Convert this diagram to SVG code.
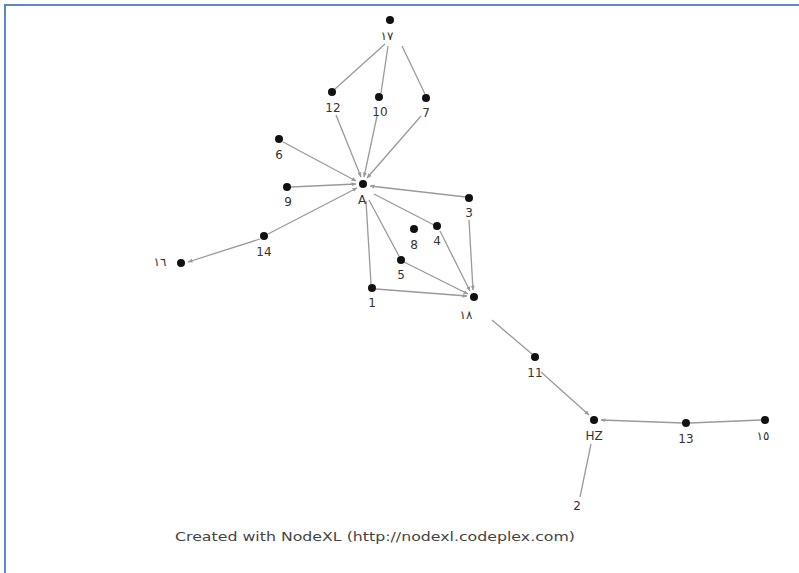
<svg xmlns="http://www.w3.org/2000/svg" width="799" height="573" viewBox="0 0 799 573">
<style>
.edge{stroke:#9a9a9a;stroke-width:1.3;fill:none}
.dot{fill:#111}
.lbl{font-family:"DejaVu Sans","Liberation Sans",sans-serif;font-size:12px;fill:#333;text-anchor:middle}
.credit{font-family:"DejaVu Sans","Liberation Sans",sans-serif;font-size:12.5px;fill:#444}
.frame{stroke:#5a88c8;stroke-width:2;fill:none}
</style>
<defs>
<marker id="arr" viewBox="0 0 10 10" refX="9" refY="5" markerWidth="5" markerHeight="5" orient="auto" markerUnits="userSpaceOnUse">
<path d="M0,1 L10,5 L0,9 z" fill="#9a9a9a"/>
</marker>
</defs>
<rect width="799" height="573" fill="#fff"/>
<path class="frame" d="M5,573 V5 H799"/>
<g id="connectors">
<line class="edge" x1="385" y1="44" x2="335" y2="89"/>
<line class="edge" x1="388" y1="46" x2="381" y2="93"/>
<line class="edge" x1="402" y1="46" x2="425" y2="94"/>
<line class="edge" x1="336" y1="115" x2="361" y2="177" marker-end="url(#arr)"/>
<line class="edge" x1="377" y1="116" x2="364" y2="177" marker-end="url(#arr)"/>
<line class="edge" x1="421" y1="116" x2="367" y2="178" marker-end="url(#arr)"/>
<line class="edge" x1="283" y1="142" x2="356" y2="181" marker-end="url(#arr)"/>
<line class="edge" x1="291" y1="187" x2="356" y2="184" marker-end="url(#arr)"/>
<line class="edge" x1="466" y1="197" x2="370" y2="186" marker-end="url(#arr)"/>
<line class="edge" x1="268" y1="234" x2="357" y2="188" marker-end="url(#arr)"/>
<line class="edge" x1="260" y1="239" x2="188" y2="262" marker-end="url(#arr)"/>
<line class="edge" x1="366" y1="201" x2="371" y2="284"/>
<line class="edge" x1="369" y1="200" x2="399" y2="256"/>
<line class="edge" x1="374" y1="194" x2="434" y2="225"/>
<line class="edge" x1="404" y1="262" x2="468" y2="294" marker-end="url(#arr)"/>
<line class="edge" x1="376" y1="289" x2="467" y2="296" marker-end="url(#arr)"/>
<line class="edge" x1="440" y1="231" x2="470" y2="291" marker-end="url(#arr)"/>
<line class="edge" x1="469" y1="220" x2="473" y2="290" marker-end="url(#arr)"/>
<line class="edge" x1="492" y1="320" x2="532" y2="354"/>
<line class="edge" x1="541" y1="372" x2="589" y2="415" marker-end="url(#arr)"/>
<line class="edge" x1="683" y1="423" x2="601" y2="420" marker-end="url(#arr)"/>
<line class="edge" x1="761" y1="420" x2="690" y2="423"/>
<line class="edge" x1="591" y1="444" x2="580" y2="497"/>
</g>
<g id="n17"><circle class="dot" cx="390" cy="20" r="4"/><text class="lbl" x="387" y="40">١٧</text></g>
<g id="n12"><circle class="dot" cx="332" cy="92" r="4"/><text class="lbl" x="333" y="112">12</text></g>
<g id="n10"><circle class="dot" cx="379" cy="97" r="4"/><text class="lbl" x="380" y="116">10</text></g>
<g id="n7"><circle class="dot" cx="426" cy="98" r="4"/><text class="lbl" x="426" y="117">7</text></g>
<g id="n6"><circle class="dot" cx="279" cy="139" r="4"/><text class="lbl" x="279" y="159">6</text></g>
<g id="nA"><circle class="dot" cx="363" cy="184" r="4"/><text class="lbl" x="362" y="204">A</text></g>
<g id="n9"><circle class="dot" cx="287" cy="187" r="4"/><text class="lbl" x="288" y="206">9</text></g>
<g id="n3"><circle class="dot" cx="469" cy="198" r="4"/><text class="lbl" x="469" y="217">3</text></g>
<g id="n4"><circle class="dot" cx="437" cy="226" r="4"/><text class="lbl" x="437" y="245">4</text></g>
<g id="n8"><circle class="dot" cx="414" cy="229" r="4"/><text class="lbl" x="414" y="249">8</text></g>
<g id="n14"><circle class="dot" cx="264" cy="236" r="4"/><text class="lbl" x="264" y="256">14</text></g>
<g id="n16"><circle class="dot" cx="181" cy="263" r="4"/><text class="lbl" x="160" y="266">١٦</text></g>
<g id="n5"><circle class="dot" cx="401" cy="260" r="4"/><text class="lbl" x="401" y="279">5</text></g>
<g id="n1"><circle class="dot" cx="372" cy="288" r="4"/><text class="lbl" x="372" y="307">1</text></g>
<g id="n18"><circle class="dot" cx="474" cy="297" r="4"/><text class="lbl" x="466" y="319">١٨</text></g>
<g id="n11"><circle class="dot" cx="535" cy="357" r="4"/><text class="lbl" x="535" y="377">11</text></g>
<g id="nHZ"><circle class="dot" cx="594" cy="420" r="4"/><text class="lbl" x="594" y="440">HZ</text></g>
<g id="n13"><circle class="dot" cx="686" cy="423" r="4"/><text class="lbl" x="686" y="443">13</text></g>
<g id="n15"><circle class="dot" cx="765" cy="420" r="4"/><text class="lbl" x="763" y="440">١٥</text></g>
<g id="n2"><text class="lbl" x="577" y="510">2</text></g>
<text class="credit" x="175" y="541" textLength="400" lengthAdjust="spacingAndGlyphs">Created with NodeXL (http://nodexl.codeplex.com)</text>
</svg>
